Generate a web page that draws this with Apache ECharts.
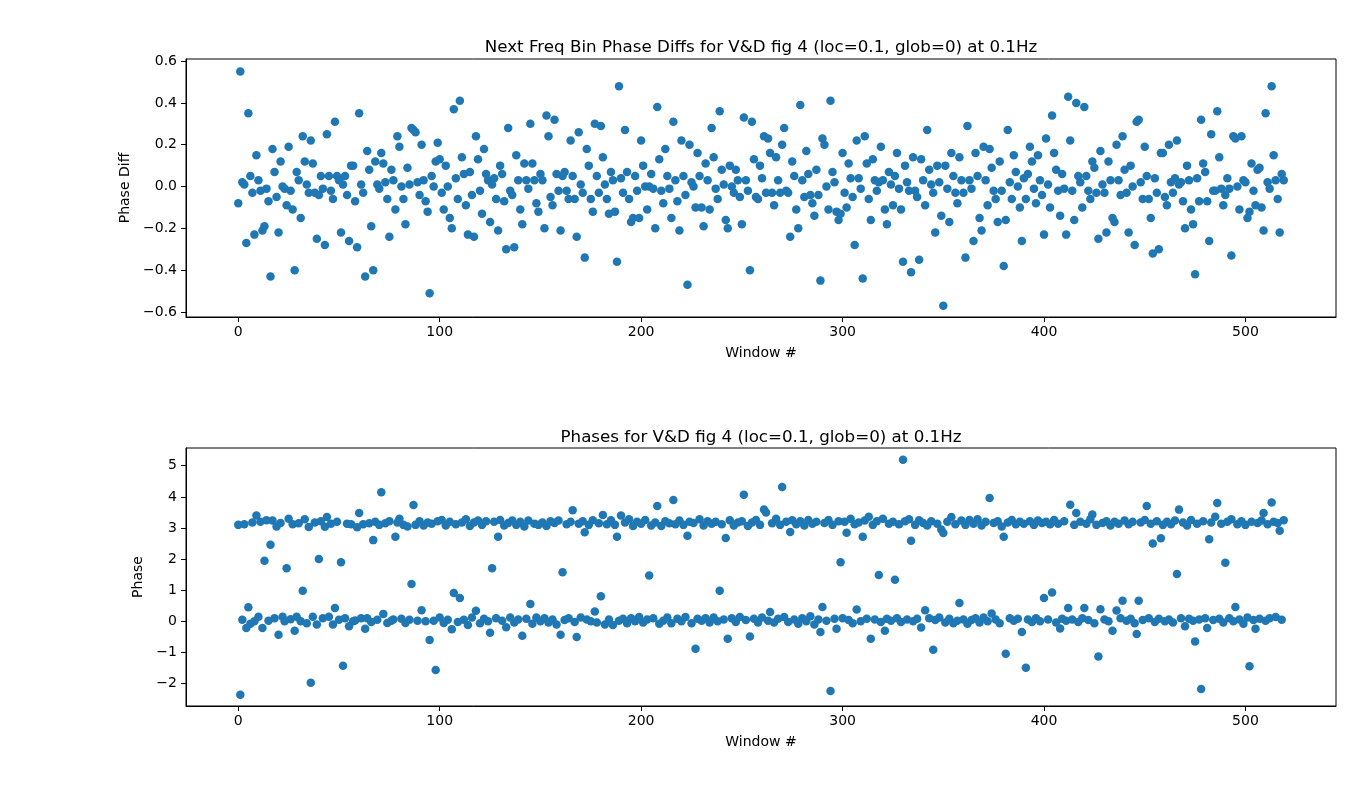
<!DOCTYPE html>
<html>
<head>
<meta charset="utf-8">
<script src="https://cdn.jsdelivr.net/npm/echarts@6/dist/echarts.min.js"></script>
<style>
html, body { margin: 0; padding: 0; background: #fff; }
#main { width: 1368px; height: 804px; }
</style>
</head>
<body>
<div id="main"></div>
<script>
// phase difference to the next freq bin, one value per window (0..519)
var phaseDiffs = [
  -0.08,0.55,0.02,0.01,-0.27,0.35,0.05,-0.03,-0.23,0.15,0.03,-0.02,-0.21,-0.19,-0.01,-0.07,-0.43,0.18,0.07,-0.05,
  -0.22,0.12,0.00,-0.01,-0.09,0.19,-0.02,-0.11,-0.40,0.07,0.03,-0.15,0.24,0.12,0.01,-0.03,0.22,0.11,-0.03,-0.25,
  -0.04,0.05,-0.01,-0.28,0.25,0.05,-0.02,-0.06,0.31,0.05,0.03,-0.22,0.01,0.05,-0.04,-0.26,0.10,0.10,-0.07,-0.29,
  0.35,0.01,-0.03,-0.43,0.17,0.08,-0.19,-0.40,0.12,0.01,-0.01,0.16,0.11,0.02,-0.06,-0.24,0.08,0.03,-0.11,0.24,
  0.19,0.00,-0.06,-0.18,0.09,0.01,0.28,0.27,0.26,0.02,-0.04,0.20,0.03,-0.07,-0.12,-0.51,0.05,0.00,0.12,0.21,
  0.13,-0.03,-0.11,0.10,0.00,-0.15,-0.20,0.37,0.04,-0.06,0.41,0.14,0.06,-0.09,-0.23,0.07,-0.04,-0.24,0.24,0.13,
  -0.02,-0.13,0.18,0.06,0.03,-0.17,0.01,0.04,-0.06,-0.21,0.10,0.06,-0.07,-0.30,0.28,-0.02,-0.04,-0.29,0.15,0.03,
  -0.11,-0.18,0.11,0.03,-0.01,0.30,0.11,0.03,-0.08,-0.12,0.06,0.03,-0.20,0.34,0.24,-0.05,-0.09,0.32,0.06,-0.02,
  -0.21,0.05,0.07,-0.02,-0.06,0.22,0.05,-0.06,-0.24,0.26,0.01,-0.03,-0.34,0.18,0.10,-0.06,-0.12,0.30,0.05,-0.03,
  0.29,0.14,0.01,-0.06,-0.13,0.07,0.03,-0.12,-0.36,0.48,0.04,-0.03,0.27,0.07,-0.06,-0.17,-0.15,0.05,-0.02,-0.15,
  0.22,0.10,0.00,-0.11,0.00,0.06,-0.01,-0.20,0.38,0.13,-0.02,-0.08,0.18,0.05,-0.01,-0.15,0.31,0.03,-0.07,-0.21,
  0.22,0.05,-0.04,-0.47,0.20,0.02,0.00,-0.10,0.16,0.05,-0.10,-0.19,0.11,0.03,-0.11,0.28,0.14,-0.01,-0.06,0.36,
  0.08,0.01,-0.16,-0.20,0.10,0.00,-0.03,0.08,0.03,-0.05,-0.18,0.33,0.03,-0.02,-0.40,0.31,0.13,-0.05,-0.06,0.10,
  0.04,0.24,-0.03,0.23,0.16,-0.03,-0.09,0.14,0.03,-0.03,0.20,0.28,-0.02,-0.03,-0.24,0.12,0.05,-0.11,-0.20,0.39,
  0.03,-0.05,0.17,0.06,-0.04,-0.08,-0.14,0.08,-0.04,-0.45,0.23,0.20,0.00,-0.11,0.41,0.07,0.02,-0.12,-0.16,-0.13,
  0.16,-0.03,-0.10,0.11,0.04,-0.05,-0.28,0.22,0.04,-0.01,-0.44,0.24,0.11,-0.06,-0.16,0.13,0.03,-0.02,0.02,0.19,
  0.03,-0.11,-0.18,0.07,0.01,-0.09,0.05,0.16,-0.01,-0.11,-0.36,0.10,0.02,-0.02,-0.41,0.14,-0.02,-0.05,-0.35,0.13,
  0.03,-0.09,0.27,0.08,0.01,-0.03,-0.22,0.10,0.02,-0.14,-0.57,0.10,-0.01,-0.17,0.16,0.05,-0.03,-0.08,0.14,0.03,
  -0.03,-0.34,0.29,0.03,-0.01,-0.26,0.16,0.05,-0.15,-0.21,0.19,0.03,-0.09,0.18,0.09,-0.02,-0.06,-0.17,0.12,-0.02,
  -0.38,-0.16,0.27,0.02,-0.06,0.15,0.07,0.00,-0.10,-0.26,0.04,-0.06,0.06,0.19,0.12,-0.01,-0.08,0.15,0.03,-0.04,
  -0.23,0.23,0.01,-0.10,0.34,0.16,0.08,-0.02,-0.14,0.06,-0.01,-0.23,0.43,0.22,-0.02,-0.16,0.40,0.05,0.02,-0.10,
  0.38,0.05,-0.02,-0.06,0.12,0.09,-0.03,-0.25,0.17,0.01,-0.03,-0.22,0.12,0.03,-0.15,-0.17,0.20,0.03,-0.04,0.24,
  0.08,-0.03,-0.22,0.10,0.00,-0.28,0.31,0.32,0.02,-0.06,0.19,0.05,-0.06,-0.15,-0.32,0.04,-0.03,-0.30,0.16,0.16,
  -0.05,-0.09,0.20,0.02,-0.03,0.04,0.22,0.01,0.02,-0.07,-0.20,0.10,0.03,-0.11,-0.18,-0.42,0.04,-0.07,0.32,0.11,
  0.07,-0.07,-0.26,0.25,-0.02,-0.02,0.36,0.14,-0.01,-0.09,-0.04,0.04,-0.01,-0.33,0.24,0.23,0.00,-0.11,0.24,0.03,
  0.02,-0.15,-0.12,0.11,-0.02,-0.09,0.08,0.09,-0.10,-0.21,0.35,0.02,-0.01,0.48,0.15,0.03,-0.06,-0.22,0.06,0.03
];

// phase per window (0..519)
var phases = [
  3.10,-2.36,0.05,3.12,-0.21,0.45,-0.08,3.18,0.00,3.40,0.15,3.20,-0.21,1.95,3.25,0.02,2.46,3.24,0.10,3.05,
  -0.43,3.16,0.15,0.00,1.71,3.30,0.07,3.12,-0.30,0.15,3.15,0.00,0.98,3.28,-0.06,3.03,-1.97,0.15,3.18,-0.10,
  2.00,3.22,0.10,3.04,3.35,0.15,3.14,-0.10,0.43,3.20,0.05,1.90,-1.43,0.10,3.14,-0.16,3.12,0.00,0.03,3.02,
  3.48,0.10,3.12,-0.24,0.10,3.15,-0.02,2.61,3.20,0.05,3.10,4.15,0.24,3.15,-0.05,3.22,0.02,0.06,2.72,3.18,
  3.30,0.08,3.10,-0.05,3.05,0.05,1.20,3.74,3.10,0.02,3.22,0.36,3.08,0.00,3.18,-0.60,3.14,0.02,-1.56,3.22,
  0.12,3.26,-0.05,3.08,0.05,3.20,-0.25,0.91,3.12,-0.02,0.75,3.18,0.05,3.28,-0.12,3.06,0.12,3.18,0.34,3.24,
  -0.06,3.10,0.08,3.22,0.00,-0.37,1.71,3.20,0.10,2.72,3.26,0.02,3.08,-0.19,3.16,0.12,3.24,-0.04,3.10,0.06,
  3.20,-0.46,3.05,0.08,3.24,0.56,-0.08,3.14,0.12,3.10,0.00,3.18,0.10,3.06,-0.04,3.22,0.06,3.16,-0.10,3.24,
  -0.43,1.58,0.04,3.12,0.10,3.20,3.57,-0.02,-0.50,3.14,0.12,3.22,2.86,0.06,3.10,0.00,3.25,0.32,-0.04,3.15,
  0.81,3.42,-0.10,3.12,0.06,3.25,-0.12,3.10,2.72,0.02,3.40,0.08,3.18,-0.06,3.28,0.10,3.06,0.00,3.20,0.14,
  3.14,-0.04,3.26,0.06,1.47,3.08,0.10,3.18,3.71,-0.08,3.06,0.02,3.22,0.12,3.15,-0.06,3.90,3.12,0.08,3.24,
  0.00,3.10,0.14,2.75,3.20,-0.06,3.16,-0.88,0.08,3.28,0.02,3.08,0.10,3.22,-0.04,3.14,0.12,3.20,0.00,0.98,
  3.12,0.06,2.68,-0.56,3.25,0.10,3.08,-0.02,3.18,0.14,3.22,4.07,0.04,3.06,-0.49,3.18,0.08,3.26,-0.04,3.10,
  0.12,3.59,3.50,0.02,0.30,3.15,-0.04,3.30,0.08,3.10,4.32,0.14,3.20,-0.02,2.87,3.25,0.06,3.12,-0.08,3.22,
  0.10,3.08,0.00,3.26,0.16,3.14,-0.10,3.20,0.06,-0.34,0.46,3.16,0.02,3.26,-2.24,3.10,0.08,-0.24,3.22,1.90,
  0.10,3.20,2.85,0.04,3.30,-0.06,3.12,0.38,3.18,0.00,2.72,3.24,0.08,3.36,-0.56,3.10,0.06,3.22,1.49,-0.02,
  3.30,-0.30,0.08,3.14,0.02,3.20,1.34,0.10,3.12,-0.02,5.19,3.22,0.06,3.28,2.59,0.00,3.10,0.08,3.25,-0.20,
  3.16,0.36,3.08,0.10,3.22,-0.91,0.04,3.14,0.12,2.95,2.84,-0.04,3.20,0.08,3.35,-0.06,3.12,0.02,0.59,3.24,
  0.06,3.10,-0.08,3.26,0.04,3.14,0.10,3.28,-0.04,3.08,0.12,3.20,0.00,3.96,0.25,3.16,0.06,3.22,-0.06,3.05,
  2.72,-1.04,3.18,0.10,3.26,0.02,3.12,0.08,3.20,-0.34,3.14,-1.49,0.06,3.22,-0.02,3.10,0.10,3.24,0.00,3.16,
  0.75,3.20,0.06,3.12,0.93,3.26,-0.04,3.14,-0.23,0.08,3.22,0.02,0.43,3.75,0.06,3.10,3.48,-0.02,3.20,0.10,
  0.43,3.14,0.04,3.28,3.43,-0.06,3.10,-1.13,0.39,3.16,0.06,3.22,0.00,3.08,-0.30,3.20,0.35,3.14,0.10,0.66,
  3.24,0.02,3.12,0.08,3.20,-0.06,-0.41,0.66,3.18,0.04,3.26,3.71,0.10,3.14,2.50,-0.02,3.22,0.08,2.67,3.10,
  0.00,3.20,0.06,3.12,-0.04,3.24,1.52,3.59,0.10,3.18,-0.16,3.08,0.08,3.26,0.02,-0.65,3.14,0.06,-2.17,3.22,
  0.10,-0.21,2.64,3.18,0.04,3.36,3.80,0.08,3.14,-0.04,1.88,3.20,0.10,3.28,0.00,0.46,3.12,0.06,3.22,-0.08,
  3.10,0.12,-1.44,3.20,0.04,-0.24,3.16,0.08,3.24,3.48,0.02,3.12,0.10,3.82,3.20,0.14,3.16,2.91,0.05,3.25
];

var xTicks = [0, 100, 200, 300, 400, 500];
var diffTicks = [-0.6, -0.4, -0.2, 0.0, 0.2, 0.4, 0.6];
var phaseTicks = [-2, -1, 0, 1, 2, 3, 4, 5];

var font = 'DejaVu Sans';
var blue = '#1f77b4';

function minus(s) { return String(s).replace('-', '\u2212'); }

function xAxisFor(grid) {
  return {
    type: 'value', gridIndex: grid, min: -25.95, max: 544.95,
    name: 'Window #', nameLocation: 'middle', nameGap: 29,
    nameTextStyle: { fontFamily: font, fontSize: 14, color: '#000' },
    axisLine: { show: true, onZero: false, lineStyle: { color: '#000', width: 1 } },
    axisTick: { show: true, length: 5, customValues: xTicks, lineStyle: { color: '#000' } },
    axisLabel: { customValues: xTicks, margin: 8, fontFamily: font, fontSize: 14, color: '#000' },
    splitLine: { show: false }
  };
}

function yAxisFor(grid, min, max, ticks, name, gap, fmt) {
  return {
    type: 'value', gridIndex: grid, min: min, max: max,
    name: name, nameLocation: 'middle', nameGap: gap, nameRotate: 90,
    nameTextStyle: { fontFamily: font, fontSize: 14, color: '#000' },
    axisLine: { show: true, onZero: false, lineStyle: { color: '#000', width: 1 } },
    axisTick: { show: true, length: 5, customValues: ticks, lineStyle: { color: '#000' } },
    axisLabel: { customValues: ticks, margin: 9, fontFamily: font, fontSize: 14, color: '#000',
      formatter: function (v) { return minus(fmt(v)); } },
    splitLine: { show: false }
  };
}

var chart = echarts.init(document.getElementById('main'));

chart.setOption({
  animation: false,
  backgroundColor: '#fff',
  title: [
    { text: 'Next Freq Bin Phase Diffs for V&D fig 4 (loc=0.1, glob=0) at 0.1Hz',
      left: 756, top: 34, textAlign: 'center',
      textStyle: { fontFamily: font, fontSize: 16.7, fontWeight: 'normal', color: '#000' } },
    { text: 'Phases for V&D fig 4 (loc=0.1, glob=0) at 0.1Hz',
      left: 756, top: 424, textAlign: 'center',
      textStyle: { fontFamily: font, fontSize: 16.7, fontWeight: 'normal', color: '#000' } }
  ],
  grid: [
    { left: 186, top: 59, width: 1150, height: 258, show: true, borderColor: '#000', borderWidth: 1 },
    { left: 186, top: 448, width: 1150, height: 258, show: true, borderColor: '#000', borderWidth: 1 }
  ],
  xAxis: [xAxisFor(0), xAxisFor(1)],
  yAxis: [
    yAxisFor(0, -0.624, 0.61, diffTicks, 'Phase Diff', 49, function (v) { return v.toFixed(1); }),
    yAxisFor(1, -2.72, 5.57, phaseTicks, 'Phase', 34, function (v) { return String(v); })
  ],
  series: [
    { type: 'scatter', xAxisIndex: 0, yAxisIndex: 0, symbolSize: 8.5,
      itemStyle: { color: blue, opacity: 1 },
      data: phaseDiffs.map(function (v, i) { return [i, v]; }) },
    { type: 'scatter', xAxisIndex: 1, yAxisIndex: 1, symbolSize: 8.5,
      itemStyle: { color: blue, opacity: 1 },
      data: phases.map(function (v, i) { return [i, v]; }) }
  ]
});
</script>
</body>
</html>
